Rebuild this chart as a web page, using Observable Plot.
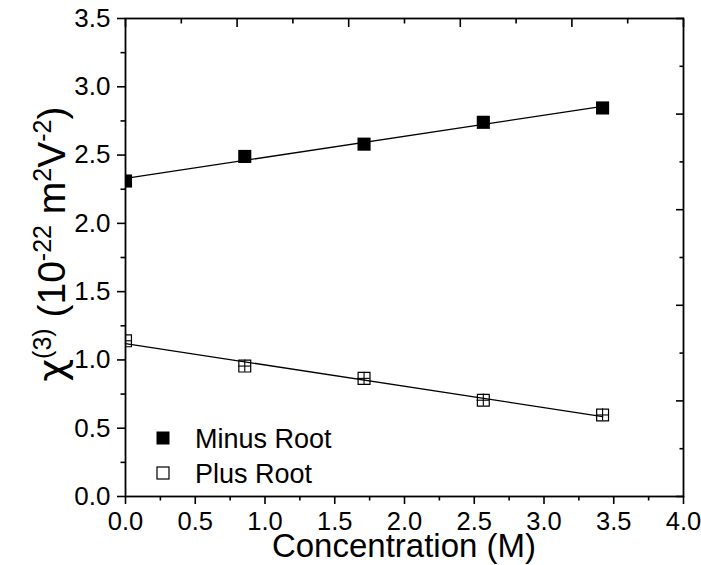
<!DOCTYPE html>
<html><head><meta charset="utf-8">
<script src="https://cdn.jsdelivr.net/npm/d3@7"></script>
<script src="https://cdn.jsdelivr.net/npm/@observablehq/plot@0.6"></script>
<style>body{margin:0;background:#fff;color:#000} #chart{width:701px;height:565px}</style>
</head><body><div id="chart"></div>
<script>
// Data
const concentration = [0, 0.855, 1.71, 2.565, 3.42];
const minusRoot = [2.31, 2.49, 2.58, 2.74, 2.845];
const plusRoot = [1.14, 0.955, 0.865, 0.705, 0.597];
const plusErrX = [0.045, 0.045, 0.045, 0.045, 0.045];
const plusErrY = [0.045, 0.045, 0.045, 0.045, 0.045];
const seriesNames = ["Minus Root", "Plus Root"];
const xMajor = [0, 0.5, 1.0, 1.5, 2.0, 2.5, 3.0, 3.5, 4.0];
const xMinor = [0.25, 0.75, 1.25, 1.75, 2.25, 2.75, 3.25, 3.75];
const yMajor = [0, 0.5, 1.0, 1.5, 2.0, 2.5, 3.0, 3.5];
const yMinor = [0.25, 0.75, 1.25, 1.75, 2.25, 2.75, 3.25];
const topMajor = [0, 0.8, 1.6, 2.4, 3.2, 4.0];
const topMinor = [0.4, 1.2, 2.0, 2.8, 3.6];
const rightMajor = [0, 0.7, 1.4, 2.1, 2.8, 3.5];
const rightMinor = [0.35, 1.05, 1.75, 2.45, 3.15];
const xLabel = "Concentration (M)";

const rows = concentration.map((c, i) => ({
  c, minus: minusRoot[i], plus: plusRoot[i], ex: plusErrX[i], ey: plusErrY[i]
}));

const FONT = "'Liberation Sans', Arial, Helvetica, sans-serif";
const noText = () => "";

const svg = Plot.plot({
  width: 701, height: 565,
  marginLeft: 125, marginRight: 18, marginTop: 18, marginBottom: 69,
  style: {fontFamily: FONT, fontSize: "26px", background: "#fff", color: "#000", overflow: "visible"},
  x: {domain: [0, 4]},
  y: {domain: [0, 3.5]},
  marks: [
    Plot.linearRegressionY(rows, {x: "c", y: "minus", ci: 0, stroke: "#000", strokeWidth: 1.3}),
    Plot.linearRegressionY(rows, {x: "c", y: "plus", ci: 0, stroke: "#000", strokeWidth: 1.3}),
    Plot.ruleX(rows, {x: "c", y1: d => d.plus - d.ey, y2: d => d.plus + d.ey, stroke: "#000", strokeWidth: 1.1, clip: true}),
    Plot.ruleY(rows, {y: "plus", x1: d => d.c - d.ex, x2: d => d.c + d.ex, stroke: "#000", strokeWidth: 1.1, clip: true}),
    Plot.dot(rows, {x: "c", y: "plus", symbol: "square", r: 6.7, fill: "none", stroke: "#000", strokeWidth: 1.2, clip: true}),
    Plot.dot(rows, {x: "c", y: "minus", symbol: "square", r: 7.4, fill: "#000", stroke: "none", clip: true}),
    Plot.frame({stroke: "#000", strokeWidth: 1.8}),
    Plot.axisX(xMajor, {anchor: "bottom", tickSize: 8, tickPadding: 7, tickFormat: d3.format(".1f"), fontSize: 25.5, strokeWidth: 1.6, label: null}),
    Plot.axisX(xMinor, {anchor: "bottom", tickSize: 4.5, tickFormat: noText, strokeWidth: 1.6, label: null}),
    Plot.axisY(yMajor, {anchor: "left", tickSize: 8, tickPadding: 7, tickFormat: d3.format(".1f"), fontSize: 26, strokeWidth: 1.6, label: null}),
    Plot.axisY(yMinor, {anchor: "left", tickSize: 4.5, tickFormat: noText, strokeWidth: 1.6, label: null}),
    Plot.axisX(topMajor, {anchor: "top", tickSize: 8, dy: 8, tickFormat: noText, strokeWidth: 1.6, label: null}),
    Plot.axisX(topMinor, {anchor: "top", tickSize: 4.5, dy: 4.5, tickFormat: noText, strokeWidth: 1.6, label: null}),
    Plot.axisY(rightMajor, {anchor: "right", tickSize: 8, dx: -8, tickFormat: noText, strokeWidth: 1.6, label: null}),
    Plot.axisY(rightMinor, {anchor: "right", tickSize: 4.5, dx: -4.5, tickFormat: noText, strokeWidth: 1.6, label: null})
  ]
});

const s = d3.select(svg);
// x-axis title
s.append("text")
  .attr("x", 404).attr("y", 557)
  .attr("text-anchor", "middle")
  .attr("font-family", FONT).attr("font-size", 33).attr("fill", "#000")
  .text(xLabel);

// y-axis title with superscripts
const yl = s.append("text")
  .attr("transform", "translate(65,244) rotate(-90)")
  .attr("text-anchor", "middle")
  .attr("font-family", FONT).attr("font-size", 39).attr("fill", "#000");
const parts = [
  ["χ", false, "'DejaVu Sans', sans-serif"], ["(3)", true], [" (10", false], ["-22", true], [" m", false],
  ["2", true], ["V", false], ["-2", true], [")", false]
];
parts.forEach(([t, sup, ff]) => {
  const ts = yl.append("tspan").text(t);
  if (ff) ts.attr("font-family", ff);
  if (sup) ts.attr("font-size", 25).attr("baseline-shift", "super");
});

// legend
const leg = s.append("g").attr("font-family", FONT).attr("font-size", 27)
  .attr("fill", "#000").attr("text-anchor", "start");
const legendY = [438, 473];
seriesNames.forEach((name, i) => {
  const y = legendY[i];
  if (i === 0) {
    leg.append("rect").attr("x", 156.5).attr("y", y - 6.5).attr("width", 13).attr("height", 13).attr("fill", "#000");
  } else {
    leg.append("rect").attr("x", 157).attr("y", y - 6).attr("width", 12).attr("height", 12)
      .attr("fill", "none").attr("stroke", "#000").attr("stroke-width", 1.2);
  }
  leg.append("text").attr("x", 195).attr("y", y + 10).attr("text-anchor", "start").text(name);
});

document.getElementById("chart").appendChild(svg);
</script>
</body></html>
